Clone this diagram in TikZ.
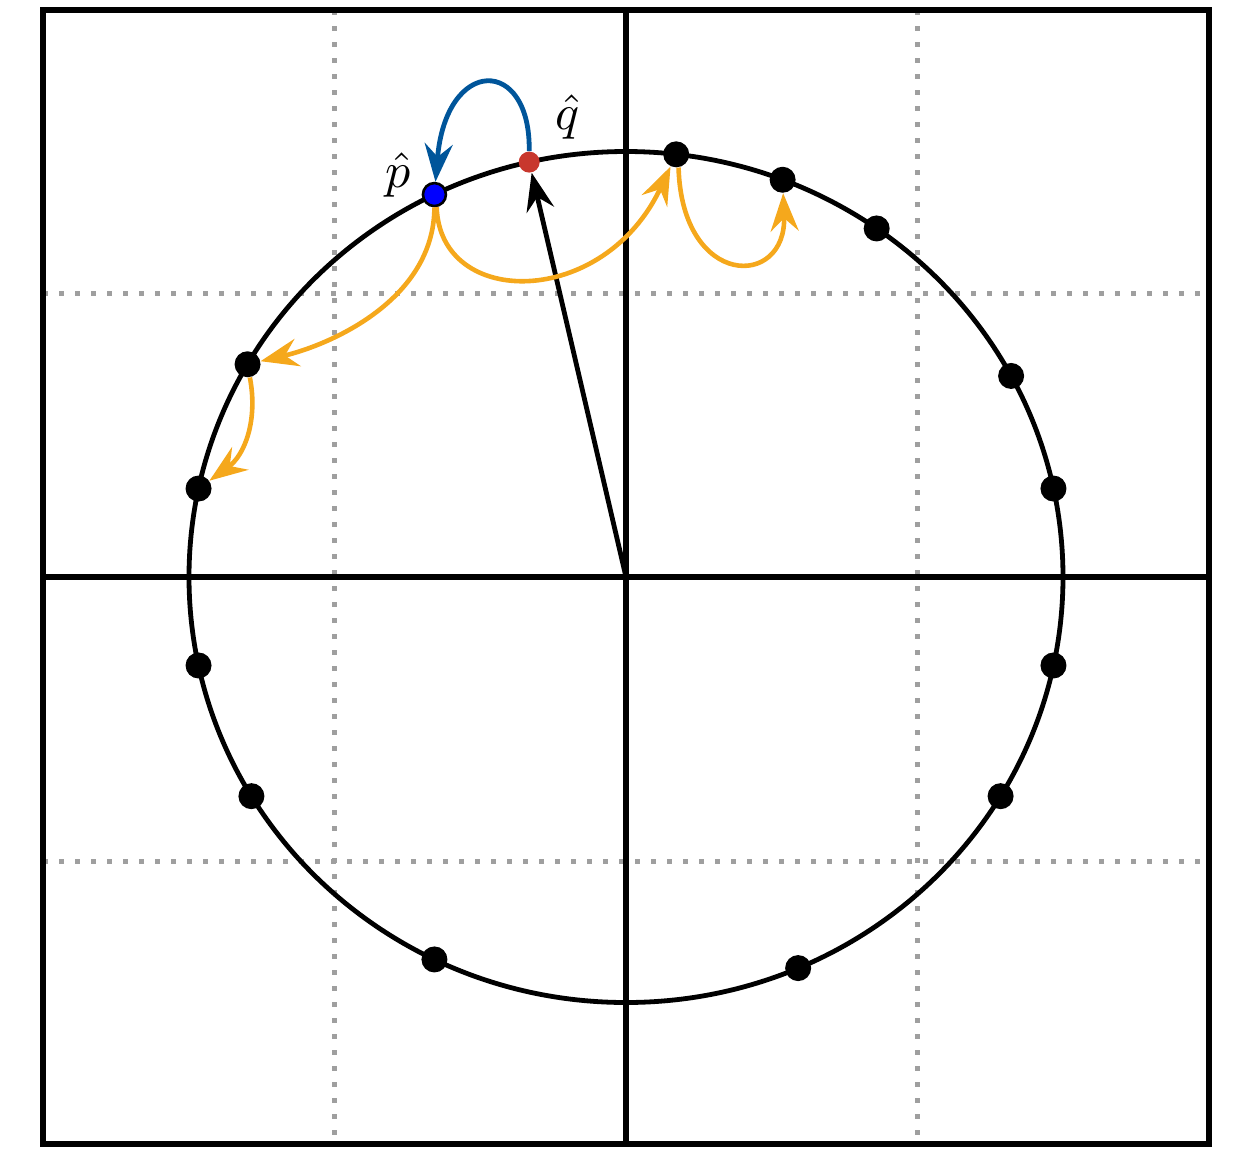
\documentclass[tikz,border=0pt]{standalone}
\usetikzlibrary{arrows.meta}
\definecolor{orng}{HTML}{F5A81C}
\definecolor{bluearr}{HTML}{00559A}
\definecolor{redq}{HTML}{C8372D}
\begin{document}
\begin{tikzpicture}[x=0.5pt,y=-0.5pt,
  grid/.style={gray!75, line width=2.5pt, dash pattern=on 2.5pt off 5.5pt},
  frame/.style={black, line width=2.7pt},
  dot/.style={circle, fill=black, inner sep=0pt, minimum size=13pt},
  pdot/.style={circle, fill=blue, draw=black, line width=1.3pt, inner sep=0pt, minimum size=11.5pt},
  qdot/.style={circle, fill=redq, inner sep=0pt, minimum size=10.5pt},
  tip/.style={-{Stealth[length=19pt,width=14pt,inset=6.5pt]}},
  oarr/.style={tip, orng, line width=2.3pt},
  lab/.style={inner sep=0pt, scale=2.5}]
\useasboundingbox (0,0) rectangle (1258,1152);
% dotted grid
\draw[grid] (334,10) -- (334,1144);
\draw[grid] (917,10) -- (917,1144);
\draw[grid] (43,293) -- (1209,293);
\draw[grid] (43,861) -- (1209,861);
% frame and axes
\draw[frame, line join=miter] (43,10) rectangle (1209,1144);
\draw[frame] (626,10) -- (626,1144);
\draw[frame] (43,577) -- (1209,577);
% circle
\draw[black, line width=2.4pt] (626,577) ellipse [x radius=437, y radius=425.5];
\coordinate (o) at (626,577);
% dots
\foreach \a/\n in {83.4/d1,69/d2,55/d3,28.2/d4,12/d5,-12/d6,-31/d7,-66.8/d8,244/d9,211/d10,192/d11,168/d12,150/d13}
  \node[dot] (\n) at ({626+437*cos(\a)},{577-425.5*sin(\a)}) {};
\node[pdot] (p) at ({626+437*cos(116)},{577-425.5*sin(116)}) {};
\node[qdot] (q) at ({626+437*cos(102.8)},{577-425.5*sin(102.8)}) {};
% labels
\node[lab] (pl) at (398,175) {$\hat{p}$};
\node[lab] (ql) at (568,117) {$\hat{q}$};
% black radius arrow
\draw[tip, black, line width=2.4pt] (o) -- (q);
% blue arrow
\draw[tip, bluearr, line width=2.4pt] (q.north) .. controls (531,56) and (446,56) .. (p);
% orange arrows
\draw[oarr] (p.-80) .. controls (440,309) and (604,309) .. (d1);
\draw[oarr] (d1.-80) .. controls (682,289) and (787,289) .. (d2);
\draw[oarr] (p.-90) .. controls (434,300) and (330,345) .. (d13);
\draw[oarr] (d13.-80) .. controls (258,420) and (245,455) .. (d12);
\end{tikzpicture}
\end{document}
